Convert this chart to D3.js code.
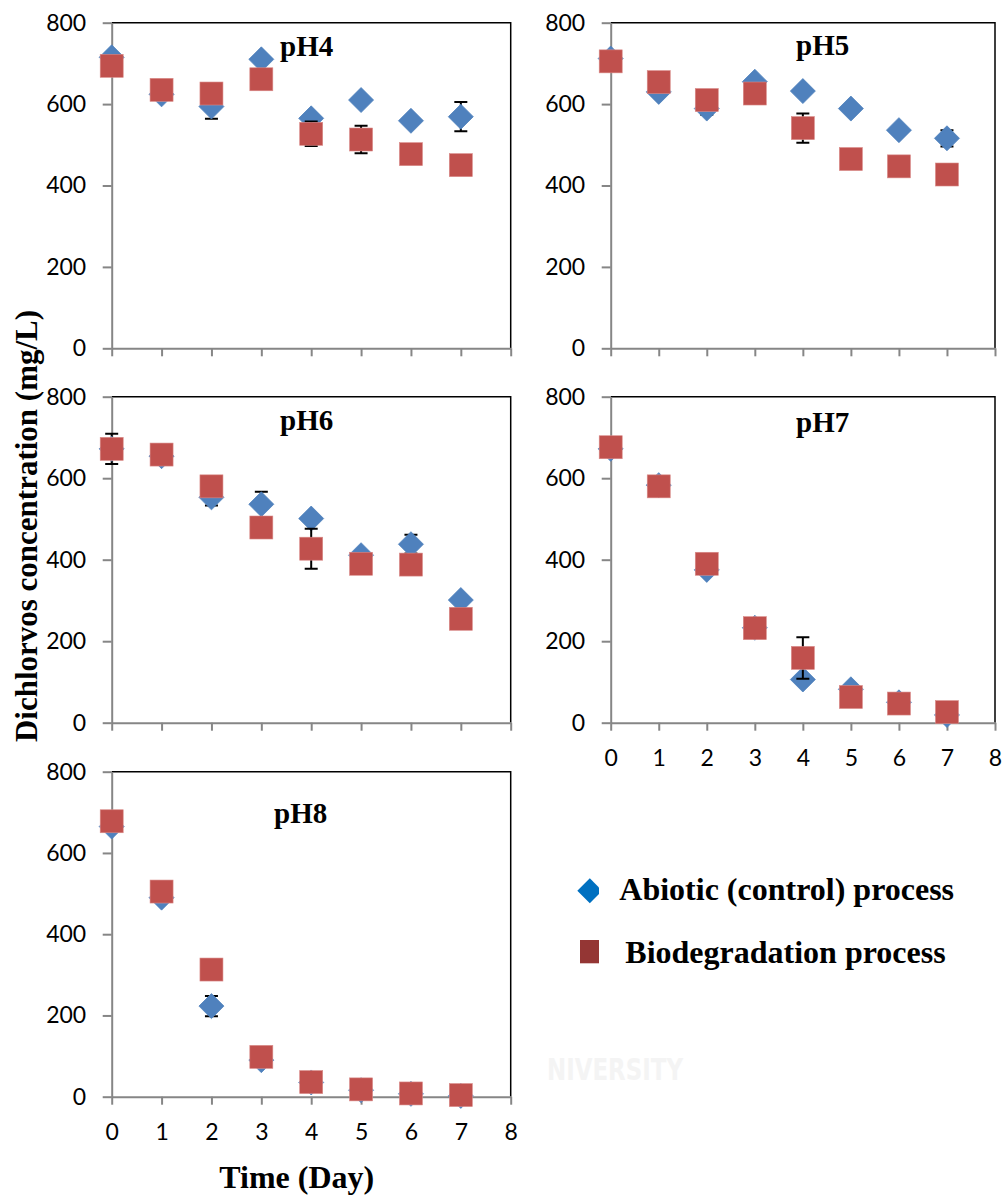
<!DOCTYPE html>
<html>
<head>
<meta charset="utf-8">
<script src="https://cdn.jsdelivr.net/npm/d3@7"></script>
<style>
  html, body { margin: 0; padding: 0; background: #fff; }
  svg { display: block; }
</style>
</head>
<body>
<svg id="chart" width="1007" height="1199"></svg>
<script>
// ---------- data ----------
const days = [0, 1, 2, 3, 4, 5, 6, 7];
const xTickValues = [0, 1, 2, 3, 4, 5, 6, 7, 8];
const yTickValues = [0, 200, 400, 600, 800];
const panelTitles = ["pH4", "pH5", "pH6", "pH7", "pH8"];
const seriesNames = ["Abiotic (control) process", "Biodegradation process"];

const abiotic_pH4 = [715, 624, 594, 710, 565, 610, 559, 569];
const bio_pH4     = [694, 635, 626, 661, 527, 513, 477, 450];
const abioticErr_pH4 = [0, 0, 30, 0, 0, 0, 0, 36];
const bioErr_pH4     = [0, 0, 0, 0, 30, 34, 0, 0];

const abiotic_pH5 = [712, 630, 589, 655, 632, 589, 536, 516];
const bio_pH5     = [705, 654, 610, 626, 541, 465, 447, 427];
const abioticErr_pH5 = [0, 0, 15, 0, 0, 0, 0, 20];
const bioErr_pH5     = [0, 0, 0, 0, 36, 0, 0, 0];

const abiotic_pH6 = [672, 654, 553, 536, 501, 411, 438, 301];
const bio_pH6     = [672, 658, 580, 479, 427, 390, 388, 255];
const abioticErr_pH6 = [37, 0, 20, 31, 0, 0, 23, 0];
const bioErr_pH6     = [0, 0, 0, 0, 49, 0, 0, 0];

const abiotic_pH7 = [672, 583, 375, 233, 106, 82, 50, 19];
const bio_pH7     = [676, 580, 390, 232, 159, 63, 47, 26];
const abioticErr_pH7 = [0, 0, 0, 0, 0, 0, 0, 0];
const bioErr_pH7     = [0, 0, 0, 0, 51, 0, 0, 0];

const abiotic_pH8 = [665, 490, 223, 90, 35, 16, 7, 2];
const bio_pH8     = [678, 505, 313, 98, 36, 18, 8, 4];
const abioticErr_pH8 = [0, 0, 25, 0, 0, 0, 0, 0];
const bioErr_pH8     = [0, 0, 0, 0, 0, 0, 0, 0];

// ---------- layout ----------
const panels = [
  { title: panelTitles[0], a: abiotic_pH4, b: bio_pH4, ae: abioticErr_pH4, be: bioErr_pH4,
    left: 111.7, right: 510.7, top: 22.7, bottom: 348.3, xLabels: false, tx: 306.7, ty: 56 },
  { title: panelTitles[1], a: abiotic_pH5, b: bio_pH5, ae: abioticErr_pH5, be: bioErr_pH5,
    left: 610.7, right: 995, top: 22.7, bottom: 348.3, xLabels: false, tx: 822.7, ty: 55 },
  { title: panelTitles[2], a: abiotic_pH6, b: bio_pH6, ae: abioticErr_pH6, be: bioErr_pH6,
    left: 111.7, right: 510.7, top: 396.7, bottom: 722.7, xLabels: false, tx: 306.7, ty: 430 },
  { title: panelTitles[3], a: abiotic_pH7, b: bio_pH7, ae: abioticErr_pH7, be: bioErr_pH7,
    left: 610.7, right: 995, top: 396.7, bottom: 722.7, xLabels: true, tx: 822.7, ty: 431.7 },
  { title: panelTitles[4], a: abiotic_pH8, b: bio_pH8, ae: abioticErr_pH8, be: bioErr_pH8,
    left: 111.7, right: 510.7, top: 771.7, bottom: 1096.7, xLabels: true, tx: 300.7, ty: 823.3 }
];

const blue = "#4F81BD", red = "#C0504D";
const axisGray = "#868686";
const serif = "'Liberation Serif', 'Times New Roman', serif";
const sans = "Lato, 'Open Sans', sans-serif";

const svg = d3.select("#chart");
const defs = svg.append("defs");

// faint watermark fragment
defs.append("clipPath").attr("id", "wmclip")
  .append("rect").attr("x", 547).attr("y", 760).attr("width", 300).attr("height", 340);
const wm = svg.append("g").attr("clip-path", "url(#wmclip)");
wm.append("text").attr("x", 547).attr("y", 1080)
  .attr("textLength", 136).attr("lengthAdjust", "spacingAndGlyphs")
  .style("font-family", "'DejaVu Sans', sans-serif").style("font-weight", "bold")
  .style("font-size", "31px").attr("fill", "#f4f4f4").text("NIVERSITY");

panels.forEach(p => {
  const x = d3.scaleLinear().domain([0, 8]).range([p.left, p.right]);
  const y = d3.scaleLinear().domain([0, 800]).range([p.bottom, p.top]);
  const g = svg.append("g");

  // plot border (top / right)
  g.append("path")
    .attr("d", `M${x(0)},${y(800)}H${x(8)}V${y(0)}`)
    .attr("fill", "none").attr("stroke", "#000").attr("stroke-width", 1.5);

  // y axis
  const ya = g.append("g").attr("transform", `translate(${x(0)},0)`)
    .call(d3.axisLeft(y).tickValues(yTickValues).tickSize(9).tickSizeOuter(0).tickPadding(16.5));
  // x axis
  const xa = g.append("g").attr("transform", `translate(0,${y(0)})`)
    .call(d3.axisBottom(x).tickValues(xTickValues).tickSize(8).tickSizeOuter(0)
      .tickFormat(p.xLabels ? d3.format("d") : () => ""));
  [ya, xa].forEach(a => {
    a.select(".domain").attr("stroke", axisGray).attr("stroke-width", 2);
    a.selectAll(".tick line").attr("stroke", axisGray).attr("stroke-width", 2);
    a.selectAll("text").style("font-family", sans).style("font-size", "23px").attr("fill", "#000");
  });
  xa.selectAll("text").attr("y", 35).attr("dy", "0.36em");

  // title
  g.append("text").attr("x", p.tx).attr("y", p.ty).attr("text-anchor", "middle")
    .style("font-family", serif).style("font-weight", "bold").style("font-size", "29px")
    .text(p.title);

  const drawErr = (vals, errs) => {
    const eg = g.append("g").attr("stroke", "#000").attr("stroke-width", 2).attr("fill", "none");
    days.forEach((d, i) => {
      if (!errs[i]) return;
      const cx = x(d), y1 = y(vals[i] + errs[i]), y2 = y(vals[i] - errs[i]);
      eg.append("path").attr("d", `M${cx},${y1}V${y2}M${cx - 6.5},${y1}H${cx + 6.5}M${cx - 6.5},${y2}H${cx + 6.5}`);
    });
  };

  // abiotic: error bars + diamonds
  drawErr(p.a, p.ae);
  g.append("g").selectAll("path").data(days).join("path")
    .attr("transform", (d, i) => `translate(${x(d)},${y(p.a[i])})`)
    .attr("d", "M0,-12.5L12.5,0L0,12.5L-12.5,0Z")
    .attr("fill", blue).attr("stroke", blue).attr("stroke-width", 0.8);

  // biodegradation: error bars + squares
  drawErr(p.b, p.be);
  g.append("g").selectAll("rect").data(days).join("rect")
    .attr("x", d => x(d) - 11.5)
    .attr("y", (d, i) => y(p.b[i]) - 11.5)
    .attr("width", 23).attr("height", 23)
    .attr("fill", red).attr("stroke", "#d98a88").attr("stroke-width", 0.6);
});

// axis titles
svg.append("text")
  .attr("transform", "translate(37,526) rotate(-90)")
  .attr("text-anchor", "middle")
  .style("font-family", serif).style("font-weight", "bold").style("font-size", "31px")
  .text("Dichlorvos concentration (mg/L)");

svg.append("text")
  .attr("x", 296.7).attr("y", 1188).attr("text-anchor", "middle")
  .style("font-family", serif).style("font-weight", "bold").style("font-size", "32px")
  .text("Time (Day)");

// legend
defs.append("clipPath").attr("id", "legclip")
  .append("rect").attr("x", 560).attr("y", 860).attr("width", 39).attr("height", 120);
const leg = svg.append("g");
const legMarks = leg.append("g").attr("clip-path", "url(#legclip)");
legMarks.append("path").attr("transform", "translate(589.8,890.8)")
  .attr("d", "M0,-12.5L12.5,0L0,12.5L-12.5,0Z").attr("fill", "#0070C0");
legMarks.append("rect").attr("x", 580).attr("y", 940).attr("width", 23).attr("height", 23.3)
  .attr("fill", "#943634");
leg.append("text").attr("x", 619.3).attr("y", 900)
  .style("font-family", serif).style("font-weight", "bold").style("font-size", "32px")
  .text(seriesNames[0]);
leg.append("text").attr("x", 625.3).attr("y", 963.3)
  .style("font-family", serif).style("font-weight", "bold").style("font-size", "32px")
  .text(seriesNames[1]);
</script>
</body>
</html>
